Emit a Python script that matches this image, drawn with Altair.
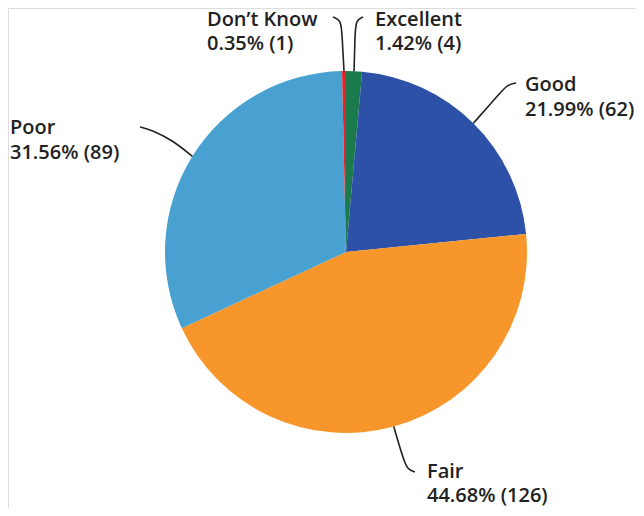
import math
import altair as alt
import pandas as pd

# ---- data ----
categories = ["Excellent", "Good", "Fair", "Poor", "Don\u2019t Know"]
percents = [1.42, 21.99, 44.68, 31.56, 0.35]
counts = [4, 62, 126, 89, 1]
colors = ["#1b7a4c", "#2d51a6", "#f7962a", "#48a1d1", "#e3242b"]

# ---- layout (image pixel coordinates) ----
CX, CY, R = 346, 252, 181
W, H = 628, 500
label_pos = {  # x of text start, baseline of first line, line spacing
    "Excellent": (375, 26, 24),
    "Good": (525, 91, 25),
    "Fair": (427, 478, 24),
    "Poor": (10, 134, 25),
    "Don\u2019t Know": (207, 26, 24),
}
leader_bends = {  # points after the slice edge
    "Excellent": [(355, 34), (356, 20), (363, 17)],
    "Good": [(501, 92), (507, 85), (516, 83)],
    "Fair": [(403, 458), (407, 469), (415, 472)],
    "Poor": [(172, 140), (152, 130), (140, 127)],
    "Don\u2019t Know": [(342, 34), (341, 20), (333, 17)],
}

pie_df = pd.DataFrame({
    "cat": categories, "pct": percents, "idx": list(range(len(categories)))
})

# leader lines: start at the slice's mid-angle on the rim
rows = []
total = sum(percents)
cum = 0.0
for c, p in zip(categories, percents):
    mid = (cum + p / 2) / total * 2 * math.pi
    cum += p
    sx = CX + R * math.sin(mid)
    sy = CY - R * math.cos(mid)
    pts = [(sx, sy)] + leader_bends[c]
    for i, (x, y) in enumerate(pts):
        rows.append({"cat": c, "seq": i, "x": x, "y": y})
line_df = pd.DataFrame(rows)

trows = []
for c, p, n in zip(categories, percents, counts):
    x, b, sp = label_pos[c]
    trows.append({"t": c, "x": x, "y": b})
    trows.append({"t": f"{p:.2f}% ({n})", "x": x, "y": b + sp})
text_df = pd.DataFrame(trows)

xs = alt.Scale(domain=[8, 8 + W], range=[0, W], nice=False, zero=False)
ys = alt.Scale(domain=[8, 8 + H], range=[0, H], nice=False, zero=False)

arc = alt.Chart(pie_df).mark_arc(radius=R).encode(
    theta=alt.Theta("pct:Q", stack=True),
    order=alt.Order("idx:Q"),
    color=alt.Color("cat:N", scale=alt.Scale(domain=categories, range=colors), legend=None),
    x=alt.value(CX - 8),
    y=alt.value(CY - 8),
)

lines = alt.Chart(line_df).mark_line(interpolate="basis", color="#222222", strokeWidth=1.6).encode(
    x=alt.X("x:Q", scale=xs, axis=None),
    y=alt.Y("y:Q", scale=ys, axis=None),
    detail="cat:N",
    order="seq:Q",
)

texts = alt.Chart(text_df).mark_text(
    align="left", baseline="alphabetic", font="Open Sans", fontSize=20,
    fontWeight=600, color="#222222"
).encode(
    x=alt.X("x:Q", scale=xs, axis=None),
    y=alt.Y("y:Q", scale=ys, axis=None),
    text="t:N",
)

chart = alt.layer(arc, lines, texts).properties(
    width=W, height=H, autosize="none", padding=0
).configure_view(stroke=None).configure(background="white")

chart.save("out.html", embed_options={"renderer": "svg", "actions": False})
